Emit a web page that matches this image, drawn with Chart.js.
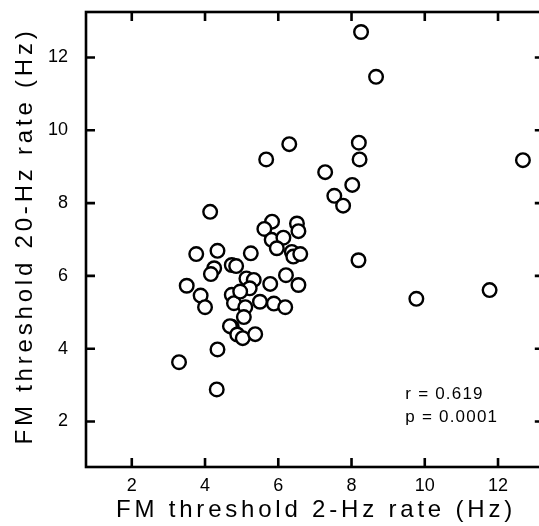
<!DOCTYPE html>
<html>
<head>
<meta charset="utf-8">
<script src="https://cdn.jsdelivr.net/npm/chart.js"></script>
<style>
  html, body { margin: 0; padding: 0; background: #fff; overflow: hidden; }
  #wrap { width: 553px; height: 526px; }
</style>
</head>
<body>
<div id="wrap"><canvas id="c" width="553" height="526"></canvas></div>
<script>
// FM threshold at 2-Hz rate (x) vs 20-Hz rate (y), one point per listener
const rate2Hz = [
  8.26, 8.67, 6.30, 5.67, 8.20, 8.22, 7.28, 8.02, 7.53, 7.77,
  12.68, 8.19, 9.77, 11.77, 5.83, 5.62, 6.51, 6.55, 5.82, 6.14,
  5.96, 6.37, 6.41, 6.60, 5.25, 4.73, 4.85, 6.21, 6.55, 5.78,
  5.13, 5.33, 5.22, 4.14, 3.76, 4.34, 4.25, 4.16, 3.50, 3.88,
  4.00, 4.73, 4.79, 4.96, 5.10, 5.50, 5.06, 5.88, 6.19, 4.73,
  4.68, 4.88, 5.03, 5.37, 4.34, 3.29, 4.32
];
const rate20Hz = [
  12.70, 11.47, 9.62, 9.20, 9.66, 9.20, 8.85, 8.50, 8.20, 7.93,
  9.18, 6.43, 5.37, 5.61, 7.49, 7.29, 7.44, 7.23, 6.99, 7.05,
  6.76, 6.66, 6.53, 6.60, 6.62, 6.30, 6.27, 6.02, 5.75, 5.78,
  5.93, 5.89, 5.66, 7.76, 6.60, 6.69, 6.21, 6.05, 5.73, 5.46,
  5.14, 5.48, 5.25, 5.57, 5.14, 5.29, 4.87, 5.24, 5.14, 4.60,
  4.62, 4.39, 4.29, 4.40, 3.98, 3.63, 2.88
];
const xTicks = [2, 4, 6, 8, 10, 12];
const yTicks = [2, 4, 6, 8, 10, 12];
const xTitle = "FM threshold 2-Hz rate (Hz)";
const yTitle = "FM threshold 20-Hz rate (Hz)";
const statLines = ["r = 0.619", "p = 0.0001"];

const FONT = "'Liberation Sans', Arial, Helvetica, sans-serif";

// frame + inward tick marks on all four sides
const framePlugin = {
  id: "frame",
  beforeDatasetsDraw(chart) {
    const { ctx, chartArea: a, scales: { x, y } } = chart;
    const len = 9;
    ctx.save();
    ctx.strokeStyle = "#000";
    ctx.lineWidth = 2.6;
    ctx.lineCap = "butt";
    ctx.strokeRect(a.left, a.top, a.right - a.left, a.bottom - a.top);
    ctx.beginPath();
    xTicks.forEach(v => {
      const px = x.getPixelForValue(v);
      ctx.moveTo(px, a.bottom); ctx.lineTo(px, a.bottom - len);
      ctx.moveTo(px, a.top); ctx.lineTo(px, a.top + len);
    });
    yTicks.forEach(v => {
      const py = y.getPixelForValue(v);
      ctx.moveTo(a.left, py); ctx.lineTo(a.left + len, py);
      ctx.moveTo(a.right, py); ctx.lineTo(a.right - len, py);
    });
    ctx.stroke();
    ctx.restore();
  }
};

// axis titles and the r / p note (wide tracking like the original)
const textPlugin = {
  id: "texts",
  afterDraw(chart) {
    const { ctx, scales: { x, y } } = chart;
    ctx.save();
    ctx.fillStyle = "#000";
    ctx.textBaseline = "middle";
    ctx.textAlign = "center";

    ctx.font = "24px " + FONT;
    ctx.letterSpacing = "3.8px";
    ctx.fillText(xTitle, 316, 510);

    ctx.save();
    ctx.translate(25, 236);
    ctx.rotate(-Math.PI / 2);
    ctx.fillText(yTitle, 0, 0);
    ctx.restore();

    ctx.font = "17px " + FONT;
    ctx.letterSpacing = "1.2px";
    ctx.textAlign = "left";
    ctx.fillText(statLines[0], x.getPixelForValue(9.47), y.getPixelForValue(2.76));
    ctx.fillText(statLines[1], x.getPixelForValue(9.47), y.getPixelForValue(2.12));
    ctx.restore();
  }
};

function noPad(s) {
  s.paddingTop = 0; s.paddingBottom = 0; s.paddingLeft = 0; s.paddingRight = 0;
}

new Chart(document.getElementById("c"), {
  type: "scatter",
  data: {
    datasets: [{
      data: rate2Hz.map((v, i) => ({ x: v, y: rate20Hz[i] })),
      pointStyle: "circle",
      pointRadius: 6.8,
      pointBorderWidth: 2.4,
      pointBorderColor: "#000",
      pointBackgroundColor: "#fff",
      clip: false
    }]
  },
  options: {
    responsive: false,
    animation: false,
    devicePixelRatio: 1,
    layout: { padding: { top: 12, right: 2.8, left: 0, bottom: 0 } },
    plugins: { legend: { display: false }, tooltip: { enabled: false } },
    scales: {
      x: {
        type: "linear",
        min: 0.75,
        max: 13.25,
        afterBuildTicks: s => { s.ticks = xTicks.map(v => ({ value: v })); },
        afterFit: s => { s.height = 59; noPad(s); },
        grid: { display: false, drawTicks: false },
        border: { display: false },
        ticks: { color: "#000", padding: 8, maxRotation: 0, font: { family: FONT, size: 18 } }
      },
      y: {
        type: "linear",
        min: 0.75,
        max: 13.25,
        afterBuildTicks: s => { s.ticks = yTicks.map(v => ({ value: v })); },
        afterFit: s => { s.width = 86; noPad(s); },
        grid: { display: false, drawTicks: false },
        border: { display: false },
        ticks: { color: "#000", padding: 18, font: { family: FONT, size: 18 } }
      }
    }
  },
  plugins: [framePlugin, textPlugin]
});
</script>
</body>
</html>
